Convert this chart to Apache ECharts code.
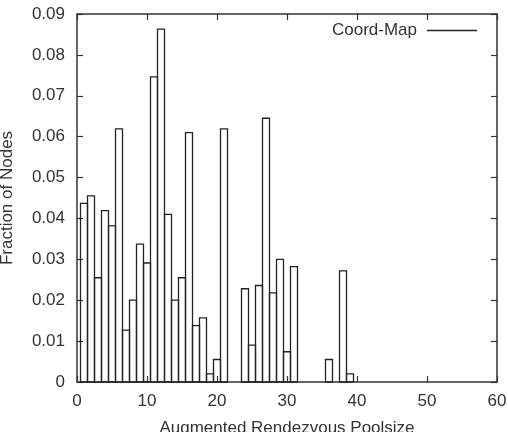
<!DOCTYPE html>
<html>
<head>
<meta charset="utf-8">
<script src="https://cdn.jsdelivr.net/npm/echarts@6/dist/echarts.min.js"></script>
<style>
html,body{margin:0;padding:0;background:#fff;}
#chart{width:508px;height:432px;}
</style>
</head>
<body>
<div id="chart"></div>
<script>
// Data
const poolSizes = [1,2,3,4,5,6,7,8,9,10,11,12,13,14,15,16,17,18,19,20,21,24,25,26,27,28,29,30,31,36,38,39];
const fractions = [0.0437,0.0455,0.0255,0.0419,0.0382,0.0619,0.0127,0.0200,0.0337,0.0291,0.0746,0.0863,0.0410,0.0200,0.0255,0.0610,0.0138,0.0157,0.0020,0.0055,0.0619,0.0228,0.0090,0.0236,0.0645,0.0218,0.0300,0.0074,0.0282,0.0055,0.0272,0.0020];
const xTickLabels = ['0','10','20','30','40','50','60'];
const yTickLabels = ['0','0.01','0.02','0.03','0.04','0.05','0.06','0.07','0.08','0.09'];
const seriesName = 'Coord-Map';

const FONT = '"Liberation Sans", Arial, Helvetica, sans-serif';
const TXT = '#333';
const LINE = '#333';

const chart = echarts.init(document.getElementById('chart'), null, {renderer:'canvas'});

const baseX = {
  type:'value', min:0, max:60, interval:10,
  axisLine:{show:true, onZero:false, lineStyle:{color:LINE, width:1.5}},
  axisTick:{show:true, inside:true, length:6, lineStyle:{color:LINE, width:1.2}},
  splitLine:{show:false}
};
const baseY = {
  type:'value', min:0, max:0.09, interval:0.01,
  axisLine:{show:true, onZero:false, lineStyle:{color:LINE, width:1.5}},
  axisTick:{show:true, inside:true, length:6, lineStyle:{color:LINE, width:1.2}},
  splitLine:{show:false}
};

const option = {
  animation:false,
  backgroundColor:'#fff',
  grid:{left:77, right:11, top:14, bottom:50, containLabel:false, outerBoundsMode:'none'},
  legend:{
    data:[{name:seriesName, icon:'rect', itemStyle:{color:'#222'}}],
    right:31, top:22, padding:0,
    itemWidth:50, itemHeight:1.5,
    selectedMode:false,
    align:'right',
    textStyle:{fontFamily:FONT, fontSize:17, color:TXT, padding:[0,5,0,0]}
  },
  xAxis:[
    Object.assign({}, baseX, {
      position:'bottom',
      name:'Augmented Rendezvous Poolsize', nameLocation:'middle', nameGap:38,
      nameTextStyle:{fontFamily:FONT, fontSize:17, color:TXT},
      axisLabel:{show:true, margin:11, fontFamily:FONT, fontSize:17, color:TXT,
        formatter:(v)=>xTickLabels[Math.round(v/10)]}
    }),
    Object.assign({}, baseX, {position:'top', axisLabel:{show:false}})
  ],
  yAxis:[
    Object.assign({}, baseY, {
      position:'left',
      name:'Fraction of Nodes', nameLocation:'middle', nameGap:61,
      nameTextStyle:{fontFamily:FONT, fontSize:17, color:TXT},
      axisLabel:{show:true, margin:12, fontFamily:FONT, fontSize:17, color:TXT,
        formatter:(v)=>yTickLabels[Math.round(v/0.01)]}
    }),
    Object.assign({}, baseY, {position:'right', axisLabel:{show:false}})
  ],
  series:[{
    name:seriesName,
    type:'custom',
    xAxisIndex:0, yAxisIndex:0,
    data:poolSizes.map((x,i)=>[x, fractions[i]]),
    encode:{x:0, y:1},
    renderItem:function(params, api){
      const x = api.value(0), y = api.value(1);
      const p0 = api.coord([x-0.5, 0]);
      const p1 = api.coord([x+0.5, y]);
      return {
        type:'rect',
        shape:{x:p0[0], y:p1[1], width:p1[0]-p0[0], height:p0[1]-p1[1]},
        style:{fill:'none', stroke:'#222', lineWidth:1.3}
      };
    }
  }]
};
chart.setOption(option);
</script>
</body>
</html>
